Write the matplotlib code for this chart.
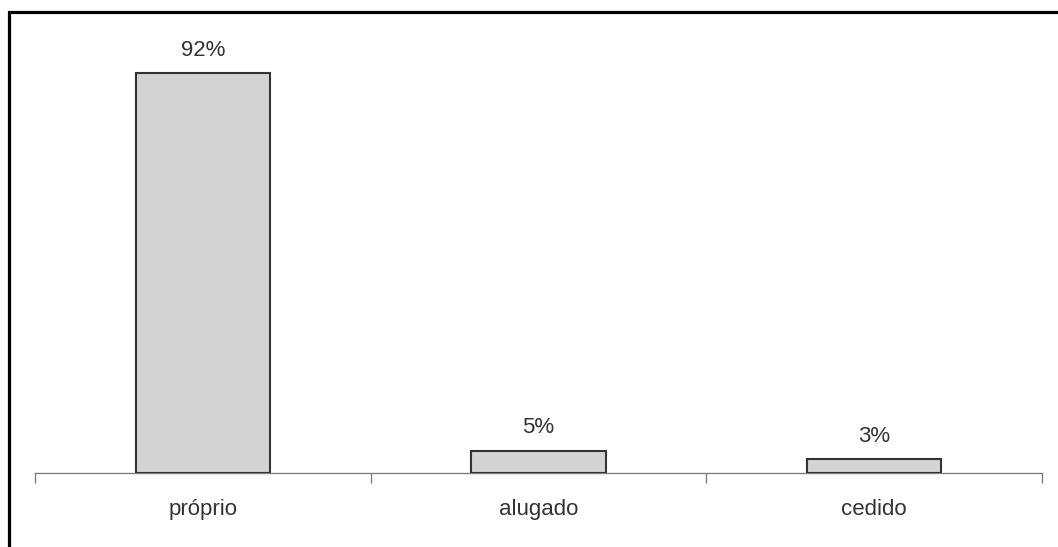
import matplotlib
matplotlib.use('Agg')
import matplotlib.pyplot as plt
from matplotlib.patches import Rectangle

categories = ['próprio', 'alugado', 'cedido']
values = [92, 5, 3]
labels = ['92%', '5%', '3%']

W, H = 1058, 547
plt.rcParams['font.family'] = ['Liberation Sans', 'DejaVu Sans']

fig = plt.figure(figsize=(W / 100, H / 100), dpi=100)
ax = fig.add_axes([35 / W, (H - 472.5) / H, (1042 - 35) / W, (472.5 - 20) / H])

x = range(len(categories))
ax.bar(x, values, width=0.4, color='#d3d3d3', edgecolor='#333333', linewidth=1.5, zorder=3)
ax.set_xlim(-0.5, len(categories) - 0.5)
ax.set_ylim(0, 92 * (472.5 - 20) / (472.5 - 73))

for i, (v, lab) in enumerate(zip(values, labels)):
    ax.annotate(lab, (i, v), xytext=(0, 12.5), textcoords='offset pixels',
                ha='center', va='bottom', fontsize=16, color='#333333')

for s in ['top', 'right', 'left']:
    ax.spines[s].set_visible(False)
ax.spines['bottom'].set_color('#808080')
ax.spines['bottom'].set_linewidth(1)
ax.set_yticks([])

# category ticks sit on the boundaries between groups
ax.set_xticks([-0.5, 0.5, 1.5, 2.5])
ax.set_xticklabels([])
ax.tick_params(axis='x', length=7, width=1, color='#808080', direction='out')
for i, c in enumerate(categories):
    ax.annotate(c, (i, 0), xytext=(0, -37), textcoords='offset pixels',
                ha='center', va='center', fontsize=16, color='#333333',
                annotation_clip=False)

# frame around the chart, cropped on the right and bottom
fig.patches.append(Rectangle((8.5 / W, -0.1), 1.2, (H - 11.5) / H + 0.1,
                             transform=fig.transFigure, fill=False,
                             edgecolor='black', linewidth=2.3))

fig.savefig('out.png', dpi=100)
